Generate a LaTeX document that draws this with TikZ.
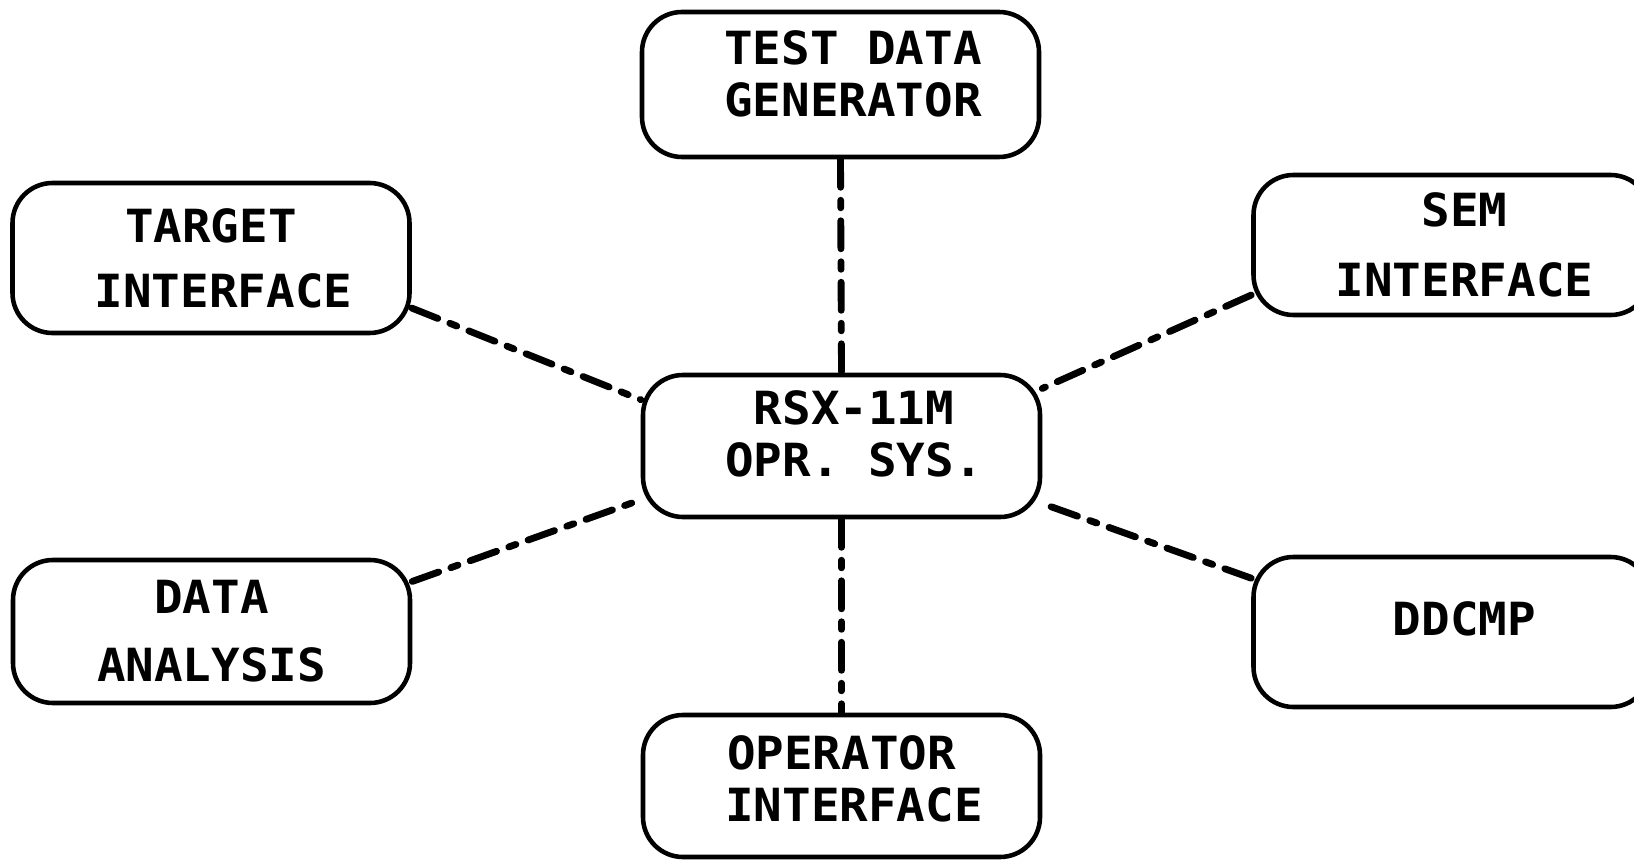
\documentclass[tikz,border=0pt]{standalone}
\usepackage{fontspec}
\setmonofont[FakeStretch=1.04]{DejaVu Sans Mono}
\newcommand{\txtlift}[1]{\rule[-#1]{0pt}{0pt}}
\newcommand{\lpad}{\hspace*{0.5cm}}

\begin{document}
\begin{tikzpicture}[
  box/.style={draw,line width=2.6pt,rounded corners=0.8cm,inner sep=0pt,
    minimum width=7.94cm,minimum height=2.86cm,align=center,
    font=\ttfamily\bfseries\fontsize{26pt}{29.6pt}\selectfont},
  link/.style={line width=3.9pt,line cap=round,
    dash pattern=on 0.56cm off 0.26cm on 0.15cm off 0.26cm}]
  \useasboundingbox (0, 0) rectangle (32.68, 17.22);
  \node[box,minimum height=2.9cm] (tdg) at (16.81, 15.53)
    {\lpad TEST DATA\\\lpad GENERATOR\txtlift{0.44cm}};
  \node[box,minimum height=2.84cm] (rsx) at (16.83, 8.30)
    {\lpad RSX-11M\\\lpad OPR. SYS.\txtlift{0.48cm}};
  \node[box,minimum height=3cm] (target) at (4.22, 12.06)
    {TARGET\\[0.26cm]\lpad INTERFACE};
  \node[box] (data) at (4.23, 4.59)
    {DATA\\[0.32cm]ANALYSIS};
  \node[box,minimum height=2.8cm] (sem) at (29.04, 12.32)
    {\lpad SEM\\[0.37cm]\lpad INTERFACE};
  \node[box,minimum height=3cm] (ddcmp) at (29.04, 4.58)
    {\lpad DDCMP\txtlift{0.52cm}};
  \node[box,minimum height=2.84cm] (opr) at (16.83, 1.50)
    {OPERATOR\\\lpad INTERFACE\txtlift{0.28cm}};
  \draw[link] (tdg.south) -- (rsx.north);
  \draw[link] (rsx.south) -- (opr.north);
  \draw[link] (target.-14.5) -- (rsx.167.7);
  \draw[link] (data.14.4) -- (rsx.195.5);
  \draw[link] (sem.194.9) -- (rsx.16.6);
  \draw[link] (ddcmp.165.4) -- (rsx.-16.9);
\end{tikzpicture}
\end{document}
